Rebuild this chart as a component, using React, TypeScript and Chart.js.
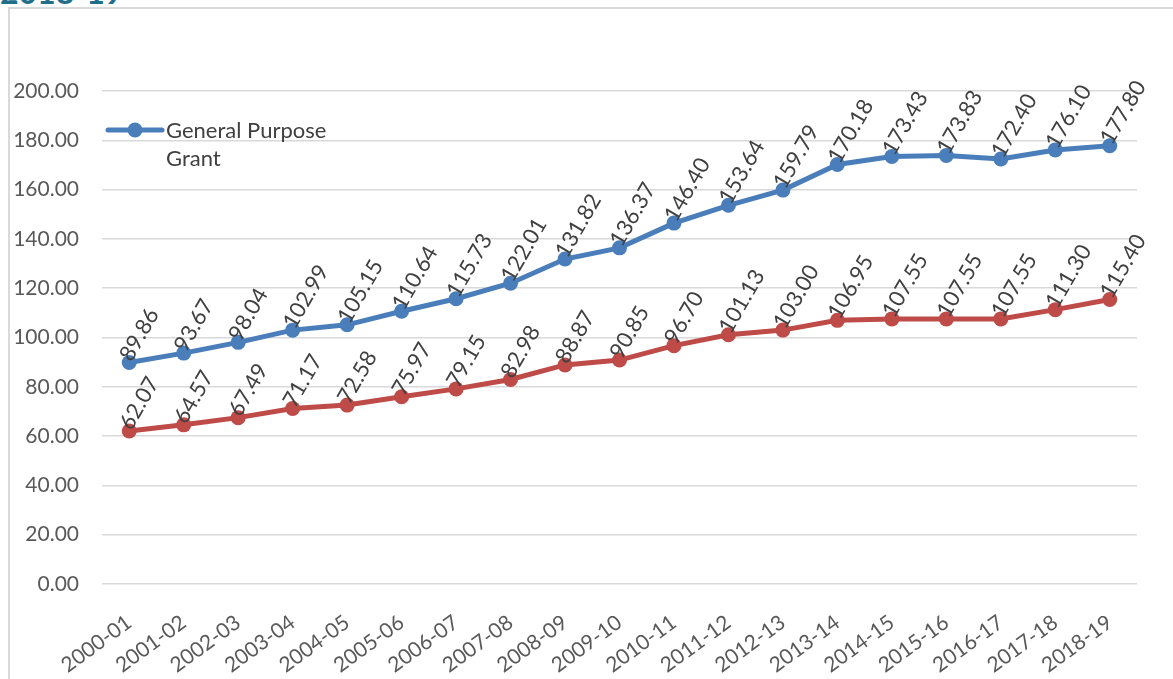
import React, { useEffect, useRef } from "react";
import { Chart, registerables } from "chart.js";

Chart.register(...registerables);

const categories = ["2000-01","2001-02","2002-03","2003-04","2004-05","2005-06","2006-07","2007-08","2008-09","2009-10","2010-11","2011-12","2012-13","2013-14","2014-15","2015-16","2016-17","2017-18","2018-19"];
const generalPurposeGrant = [89.86,93.67,98.04,102.99,105.15,110.64,115.73,122.01,131.82,136.37,146.40,153.64,159.79,170.18,173.43,173.83,172.40,176.10,177.80];
const secondSeries = [62.07,64.57,67.49,71.17,72.58,75.97,79.15,82.98,88.87,90.85,96.70,101.13,103.00,106.95,107.55,107.55,107.55,111.30,115.40];
const yTicks = [0,20,40,60,80,100,120,140,160,180,200];

const FONT = "Lato, 'Noto Sans', sans-serif";
const BLUE = "#4A7EBB";
const RED = "#BE4B48";

const labelPlugin = {
  id: "pointLabels",
  afterDatasetsDraw(chart: any) {
    const ctx = chart.ctx;
    ctx.save();
    ctx.font = `22px ${FONT}`;
    ctx.fillStyle = "#404040";
    ctx.textAlign = "left";
    ctx.textBaseline = "middle";
    chart.data.datasets.forEach((ds: any, di: number) => {
      const meta = chart.getDatasetMeta(di);
      meta.data.forEach((pt: any, i: number) => {
        ctx.save();
        ctx.translate(pt.x, pt.y);
        ctx.rotate((-60 * Math.PI) / 180);
        ctx.fillText(Number(ds.data[i]).toFixed(2), 1, -5);
        ctx.restore();
      });
    });
    ctx.restore();
  },
};

const legendPlugin = {
  id: "customLegend",
  afterDraw(chart: any) {
    const ctx = chart.ctx;
    const ds = chart.data.datasets[0];
    ctx.save();
    ctx.strokeStyle = ds.borderColor;
    ctx.lineWidth = 5;
    ctx.lineCap = "round";
    ctx.beginPath();
    ctx.moveTo(108, 130);
    ctx.lineTo(162, 130);
    ctx.stroke();
    ctx.fillStyle = ds.borderColor;
    ctx.beginPath();
    ctx.arc(135, 130, 7.5, 0, Math.PI * 2);
    ctx.fill();
    ctx.font = `22px ${FONT}`;
    ctx.fillStyle = "#404040";
    ctx.textAlign = "left";
    ctx.textBaseline = "middle";
    const words = String(ds.label).split(" ");
    ctx.fillText(words.slice(0, 2).join(" "), 166, 131);
    ctx.fillText(words.slice(2).join(" "), 166, 159);
    ctx.restore();
  },
};

export default function App() {
  const ref = useRef<HTMLCanvasElement>(null);
  useEffect(() => {
    if (!ref.current) return;
    const chart = new Chart(ref.current, {
      type: "line",
      data: {
        labels: categories,
        datasets: [
          {
            label: "General Purpose Grant",
            data: generalPurposeGrant,
            borderColor: BLUE,
            backgroundColor: BLUE,
            borderWidth: 5,
            pointRadius: 7.5,
            pointHoverRadius: 7.5,
            pointBackgroundColor: BLUE,
            pointBorderWidth: 0,
            tension: 0,
          },
          {
            label: "Other",
            data: secondSeries,
            borderColor: RED,
            backgroundColor: RED,
            borderWidth: 5,
            pointRadius: 7.5,
            pointHoverRadius: 7.5,
            pointBackgroundColor: RED,
            pointBorderWidth: 0,
            tension: 0,
          },
        ],
      },
      options: {
        animation: false,
        responsive: false,
        layout: { padding: { top: 91, right: 36, left: 0, bottom: 0 } },
        plugins: { legend: { display: false }, tooltip: { enabled: false }, title: { display: false } },
        scales: {
          x: {
            type: "category",
            offset: true,
            grid: { display: false, drawTicks: false },
            border: { display: false },
            ticks: {
              minRotation: 36,
              maxRotation: 36,
              padding: 26,
              color: "#595959",
              font: { family: FONT, size: 21 },
            },
            afterFit(scale: any) { scale.height = 95; },
          },
          y: {
            min: 0,
            max: 200,
            afterBuildTicks(scale: any) { scale.ticks = yTicks.map((v) => ({ value: v })); },
            grid: { color: "#D9D9D9", lineWidth: 1.5, drawTicks: false },
            border: { display: false },
            ticks: {
              padding: 23,
              color: "#595959",
              font: { family: FONT, size: 21 },
              callback: (v: any) => Number(v).toFixed(2),
            },
            afterFit(scale: any) { scale.width = 102; },
          },
        },
      },
      plugins: [labelPlugin, legendPlugin],
    });
    return () => chart.destroy();
  }, []);
  return (
    <div style={{ position: "fixed", left: 0, top: 0, width: 1173, height: 679, overflow: "hidden", background: "#fff" }}>
      <div style={{ position: "absolute", left: 0, top: -25, fontFamily: FONT, fontSize: 32, lineHeight: "34px", fontWeight: 700, color: "#1F6E8C", whiteSpace: "nowrap" }}>2018-19</div>
      <div style={{ position: "absolute", left: 8, top: 7, width: 1200, height: 700, borderTop: "2px solid #D9D9D9", borderLeft: "2px solid #D9D9D9", boxSizing: "border-box" }} />
      <canvas ref={ref} width={1173} height={679} style={{ position: "absolute", left: 0, top: 0 }} />
    </div>
  );
}
